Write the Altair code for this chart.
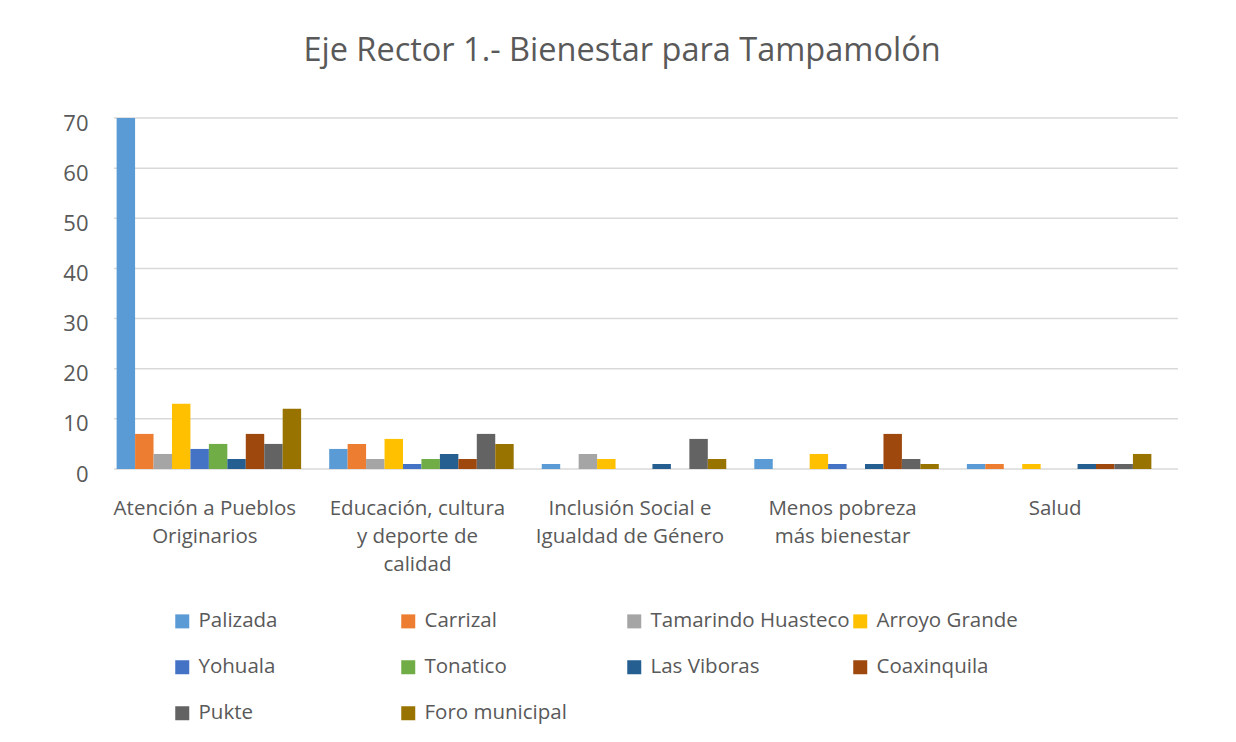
import altair as alt
import pandas as pd

categories = [
    "Atención a Pueblos Originarios",
    "Educación, cultura y deporte de calidad",
    "Inclusión Social e Igualdad de Género",
    "Menos pobreza más bienestar",
    "Salud",
]
series = ["Palizada", "Carrizal", "Tamarindo Huasteco", "Arroyo Grande", "Yohuala",
          "Tonatico", "Las Viboras", "Coaxinquila", "Pukte", "Foro municipal"]
colors = ["#5B9BD5", "#ED7D31", "#A5A5A5", "#FFC000", "#4472C4",
          "#70AD47", "#255E91", "#9E480E", "#636363", "#997300"]
y_ticks = [0, 10, 20, 30, 40, 50, 60, 70]

palizada = [70, 4, 1, 2, 1]
carrizal = [7, 5, 0, 0, 1]
tamarindo = [3, 2, 3, 0, 0]
arroyo = [13, 6, 2, 3, 1]
yohuala = [4, 1, 0, 1, 0]
tonatico = [5, 2, 0, 0, 0]
viboras = [2, 3, 1, 1, 1]
coaxinquila = [7, 2, 0, 7, 1]
pukte = [5, 7, 6, 2, 1]
foro = [12, 5, 2, 1, 3]

values = [palizada, carrizal, tamarindo, arroyo, yohuala,
          tonatico, viboras, coaxinquila, pukte, foro]

rows = []
for s, vals in zip(series, values):
    for c, v in zip(categories, vals):
        rows.append({"Categoria": c, "Serie": s, "Valor": v})
df = pd.DataFrame(rows)
grid_df = pd.DataFrame({"Valor": y_ticks})

label_expr = (
    "datum.label == 'Atención a Pueblos Originarios' ? ['Atención a Pueblos', 'Originarios'] : "
    "datum.label == 'Educación, cultura y deporte de calidad' ? ['Educación, cultura', 'y deporte de', 'calidad'] : "
    "datum.label == 'Inclusión Social e Igualdad de Género' ? ['Inclusión Social e', 'Igualdad de Género'] : "
    "datum.label == 'Menos pobreza más bienestar' ? ['Menos pobreza', 'más bienestar'] : datum.label"
)

FONT = "Open Sans"
TXT = "#595959"
W = 1056
H = 351

yscale = alt.Scale(domain=[0, 70])

grid = alt.Chart(grid_df).mark_rule(color="#D9D9D9", strokeWidth=1.5).encode(
    y=alt.Y("Valor:Q", scale=yscale, title=None,
            axis=alt.Axis(values=y_ticks, labelFontSize=22, labelColor=TXT,
                          labelFont=FONT, domain=False, ticks=False, grid=False,
                          labelPadding=18, labelOffset=5)),
    x=alt.value(8),
    x2=alt.value(W + 16),
)

bars = alt.Chart(df).mark_bar().encode(
    x=alt.X("Categoria:N", sort=categories, title=None,
            scale=alt.Scale(paddingInner=0.132, paddingOuter=0.05),
            axis=alt.Axis(labelExpr=label_expr, labelAngle=0, labelFontSize=20.5,
                          labelColor=TXT, labelFont=FONT, labelLineHeight=28,
                          domain=False, ticks=False, labelPadding=29, labelLimit=300,
                          labelOffset=-4)),
    xOffset=alt.XOffset("Serie:N", sort=series),
    y=alt.Y("Valor:Q", scale=yscale, title=None),
    color=alt.Color("Serie:N",
                    scale=alt.Scale(domain=series, range=colors),
                    legend=alt.Legend(title=None, orient="none", legendX=66, legendY=493,
                                      columns=4, direction="horizontal", gridAlign="all",
                                      symbolType="square",
                                      symbolSize=196, symbolStrokeWidth=0,
                                      labelFontSize=20.5, labelColor=TXT, labelFont=FONT,
                                      labelOffset=6, columnPadding=0, rowPadding=25,
                                      labelLimit=300)),
)

chart = alt.layer(grid, bars).properties(
    width=W,
    height=H,
    title=alt.TitleParams("Eje Rector 1.- Bienestar para Tampamolón", fontSize=32.5,
                          font=FONT, color=TXT, fontWeight="normal", anchor="middle",
                          offset=45, dx=-12),
    padding={"left": 98, "top": 110, "right": 66, "bottom": 265},
    autosize=alt.AutoSizeParams(type="none"),
).configure_view(stroke=None)

chart.save("out.html", embed_options={"renderer": "svg", "actions": False})
